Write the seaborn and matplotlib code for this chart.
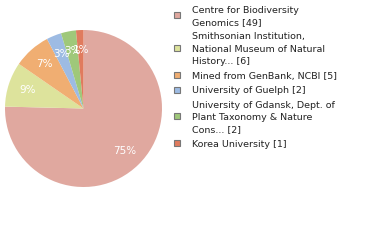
import matplotlib
matplotlib.use("Agg")
import matplotlib.pyplot as plt
import seaborn as sns
from matplotlib.patches import Rectangle

sns.set_theme(style="white")
plt.rcParams['font.family'] = ['DejaVu Sans']

labels = ["Centre for Biodiversity\nGenomics [49]",
          "Smithsonian Institution,\nNational Museum of Natural\nHistory... [6]",
          "Mined from GenBank, NCBI [5]",
          "University of Guelph [2]",
          "University of Gdansk, Dept. of\nPlant Taxonomy & Nature\nCons... [2]",
          "Korea University [1]"]
counts = [49, 6, 5, 2, 2, 1]
colors = ["#e0a89f", "#dde39c", "#f0ae72", "#9dbbe3", "#9fc87a", "#e07b5e"]

W, H = 380, 240
fig = plt.figure(figsize=(3.8, 2.4), dpi=100)
ax = fig.add_axes([5/W, 53/H, 157/W, 157/H])
wedges, texts, autotexts = ax.pie(
    counts, colors=colors, startangle=90, counterclock=False,
    autopct=lambda p: f"{int(p)}%", pctdistance=0.75,
    textprops=dict(color="white", fontsize=7.5),
    wedgeprops=dict(linewidth=0))
ax.set_xlim(-1, 1)
ax.set_ylim(-1, 1)
ax.set_aspect("equal")

# manual legend (pixel layout, top-left origin)
line_pitch = 12.3
entry_gap = 14.5
baseline = 12.7
for lab, col in zip(labels, colors):
    lines = lab.split("\n")
    for i, ln in enumerate(lines):
        y = baseline + i * line_pitch
        fig.text(192 / W, 1 - y / H, ln, fontsize=6.8, color="#222222",
                 va="baseline", ha="left")
    cy = baseline - 3.5 + (len(lines) - 1) * line_pitch / 2
    fig.patches.append(Rectangle((174 / W, 1 - (cy + 3) / H), 6 / W, 6 / H,
                                 transform=fig.transFigure, facecolor=col,
                                 edgecolor="#777777", linewidth=0.8))
    baseline += (len(lines) - 1) * line_pitch + entry_gap

fig.savefig("out.png", dpi=100)
